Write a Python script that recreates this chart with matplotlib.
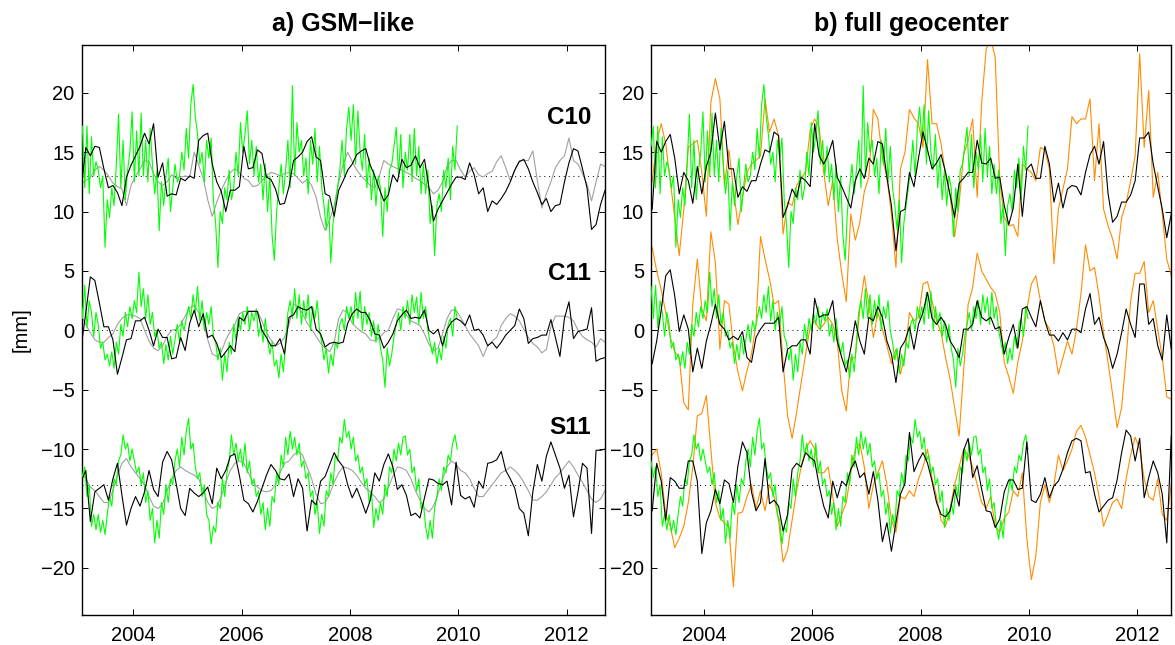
import numpy as np
import matplotlib
matplotlib.use('Agg')
import matplotlib.pyplot as plt

plt.rcParams['font.family'] = ['Liberation Sans', 'DejaVu Sans']
plt.rcParams['axes.unicode_minus'] = True

# monthly solutions Jan 2003 - Sep 2012, SLR series twice a month 2003 - 2009
t_month = 2003 + (np.arange(117) + 0.5) / 12
t_slr = 2003 + (np.arange(168) + 0.5) / 24

offsets = [13, 0, -13]

# SLR (green), same series in both panels
slr_c10 = [
    15.5, 17.2, 12.0, 17.2, 11.5, 16.3, 13.0, 14.2, 13.5, 12.0, 13.0, 7.0, 11.0, 9.5, 12.0, 10.5, 14.0, 18.2, 12.0, 16.0, 11.0, 13.5, 15.0, 18.4,
    12.5, 16.8, 13.0, 18.3, 13.0, 16.0, 12.5, 17.0, 14.0, 11.5, 13.5, 8.4, 12.5, 10.5, 13.0, 14.5, 10.0, 12.0, 14.0, 12.5, 13.0, 15.0, 13.5, 17.0,
    14.5, 19.0, 20.7, 18.0, 16.5, 14.0, 15.0, 12.5, 16.0, 14.5, 16.2, 11.0, 9.0, 5.3, 10.0, 9.0, 12.0, 11.0, 13.5, 11.0, 12.0, 15.0, 13.0, 17.5,
    15.0, 16.5, 18.5, 14.0, 16.0, 13.0, 15.5, 12.5, 14.0, 11.0, 14.0, 10.0, 13.0, 8.0, 5.9, 10.0, 12.0, 14.0, 11.5, 13.5, 16.0, 12.0, 20.6, 13.0,
    17.5, 15.0, 16.0, 13.0, 14.5, 11.5, 16.0, 14.0, 17.0, 12.5, 15.5, 12.0, 10.5, 8.5, 11.0, 5.7, 9.0, 10.5, 12.0, 13.5, 16.0, 13.0, 17.0, 18.8,
    16.0, 19.0, 14.0, 18.5, 15.0, 13.5, 16.5, 12.0, 14.5, 11.0, 13.5, 10.5, 13.0, 12.0, 7.9, 12.0, 10.0, 13.5, 14.0, 15.5, 17.1, 13.0, 16.5, 12.0,
    15.0, 13.5, 16.5, 12.5, 17.0, 13.0, 15.5, 11.5, 14.0, 11.5, 13.5, 9.0, 10.5, 6.3, 10.5, 11.5, 10.0, 13.5, 12.0, 14.5, 11.0, 15.5, 13.5, 17.2,
]
slr_c11 = [
    3.7, 1.0, 3.8, 0.2, 2.5, 1.5, -0.5, 1.5, 0.5, -1.5, -1.0, -2.5, -2.0, -3.0, -1.8, -3.2, -1.0, -2.0, 0.5, -0.5, 1.5, 0.3, 2.0, 1.0,
    2.5, 1.5, 4.9, 2.0, 3.5, 1.0, 3.0, 0.5, 1.5, -0.5, 0.0, -1.5, -1.0, -2.8, -1.2, -2.5, -0.5, -2.0, -0.8, 0.5, -1.0, 0.8, 0.0, 1.0,
    2.0, 1.0, 3.0, 1.5, 3.7, 0.8, 2.5, 0.0, 1.5, 0.5, 2.0, -0.5, -1.0, -2.5, -1.5, -4.2, -2.0, -3.5, -1.0, -2.0, 0.5, -0.8, 1.0, 0.0,
    1.5, 0.5, 2.0, 0.0, 1.5, 0.8, 1.8, -0.5, 0.5, -1.0, 1.0, -0.8, -2.0, -1.0, -3.0, -2.5, -4.0, -2.0, -3.5, -1.0, 1.5, 2.5, 1.0, 3.5,
    1.0, 3.0, 0.5, 2.5, 1.0, 3.0, 0.0, 2.0, 1.0, 2.5, 0.0, -1.0, -2.5, -1.5, -3.6, -2.0, -3.0, -1.0, -1.5, 0.5, 1.0, 0.0, 2.0, 1.0,
    2.0, 0.5, 3.2, 1.0, 3.3, 0.0, 2.0, 0.5, 1.5, -0.5, 0.8, -1.0, 0.5, -1.5, -2.5, -4.8, -1.5, -3.0, -2.0, -0.5, 0.5, 1.5, 0.0, 2.0,
    1.0, 2.5, 0.5, 3.0, 1.5, 2.8, 0.5, 3.2, 1.0, 2.0, 0.0, -1.0, -2.0, -1.0, -2.8, -1.5, -2.5, -0.5, -1.5, 0.5, 1.0, -0.5, 2.0, 1.0,
]
slr_s11 = [
    -11.0, -12.4, -11.5, -14.0, -13.0, -16.5, -15.5, -16.8, -15.5, -17.0, -16.0, -17.2, -15.5, -14.0, -14.8, -12.5, -13.0, -11.0, -10.5, -8.8, -10.0, -9.5, -11.0, -10.0,
    -11.0, -12.0, -11.5, -13.0, -12.0, -14.5, -13.5, -16.0, -15.0, -17.9, -16.0, -17.5, -14.5, -15.5, -13.0, -14.5, -12.5, -13.0, -11.0, -10.0, -11.5, -9.0, -10.5, -8.5,
    -7.4, -10.0, -9.5, -11.5, -12.5, -12.0, -14.0, -13.0, -15.5, -16.0, -18.0, -16.5, -17.0, -14.5, -15.0, -12.5, -14.0, -12.0, -11.0, -8.8, -10.5, -9.5, -11.0, -10.0,
    -11.5, -9.5, -12.0, -11.0, -13.0, -12.5, -14.0, -13.5, -15.5, -14.5, -16.8, -15.0, -16.5, -14.0, -14.5, -12.0, -13.0, -10.5, -11.5, -9.0, -10.5, -8.5, -10.0, -9.0,
    -10.5, -9.5, -11.5, -11.0, -12.5, -12.0, -14.0, -13.5, -15.5, -14.5, -17.1, -15.5, -16.5, -13.5, -14.0, -12.0, -13.0, -10.5, -11.0, -9.0, -9.5, -7.5, -9.0, -8.5,
    -10.0, -9.0, -11.0, -10.5, -12.0, -11.5, -13.0, -12.5, -14.5, -13.5, -16.6, -15.0, -16.0, -14.5, -15.5, -13.0, -14.0, -11.5, -12.0, -10.0, -11.0, -9.5, -10.5, -9.0,
    -8.9, -10.5, -10.0, -12.0, -11.5, -13.5, -12.5, -15.0, -14.5, -16.5, -17.6, -16.0, -17.5, -15.0, -14.0, -12.5, -13.5, -11.5, -12.0, -10.5, -11.0, -9.5, -8.8, -10.0,
]

# a) GSM-like: estimate (black) and reference (gray)
gsm_c10 = [
    12.0, 15.4, 14.7, 15.5, 15.4, 13.6, 12.0, 12.2, 11.6, 10.5, 12.9, 13.9,
    14.7, 15.5, 16.6, 15.7, 17.4, 12.9, 14.1, 11.3, 11.5, 11.4, 12.8, 12.6,
    13.0, 12.8, 16.0, 16.4, 16.6, 14.0, 12.5, 11.7, 10.0, 11.8, 11.8, 12.1,
    15.5, 13.6, 13.7, 15.2, 14.9, 12.9, 12.7, 11.9, 10.6, 10.7, 12.1, 14.3,
    14.6, 15.0, 15.9, 16.3, 14.6, 14.3, 11.5, 11.3, 9.6, 11.8, 12.6, 13.5,
    14.0, 14.8, 15.1, 15.3, 13.9, 13.0, 11.9, 10.9, 11.4, 13.1, 12.5, 14.4,
    13.7, 13.9, 14.7, 13.7, 14.4, 12.0, 9.2, 10.2, 10.9, 11.6, 12.3, 12.9,
    12.9, 12.7, 14.1, 13.1, 11.5, 12.0, 10.0, 10.9, 10.6, 11.1, 11.7, 12.5,
    13.5, 14.2, 14.4, 13.6, 12.5, 11.6, 10.6, 11.1, 10.0, 10.5, 10.6, 12.5,
    14.1, 15.3, 15.1, 13.6, 12.0, 8.5, 8.9, 10.6, 11.8,
]
ref_c10 = [
    12.4, 12.6, 12.9, 13.5, 13.8, 13.5, 13.0, 12.4, 12.1, 11.9, 10.5, 12.2,
    13.0, 13.6, 14.3, 14.2, 13.2, 12.5, 12.2, 12.5, 13.1, 12.8, 12.9, 13.0,
    12.9, 15.0, 13.9, 12.8, 11.0, 9.6, 10.8, 11.8, 12.6, 13.3, 13.6, 13.3,
    12.8, 12.6, 12.1, 12.2, 12.6, 13.0, 13.3, 13.2, 13.0, 13.2, 13.3, 13.2,
    12.8, 12.4, 12.7, 12.2, 11.2, 9.5, 8.4, 9.3, 10.5, 12.5, 14.0, 15.0,
    14.2, 13.5, 13.0, 12.6, 12.2, 12.0, 13.0, 14.3, 14.0, 13.8, 13.6, 13.5,
    13.3, 13.1, 12.8, 12.6, 12.3, 12.0, 11.5, 11.8, 12.5, 13.8, 14.3, 14.3,
    13.5, 12.9, 13.4, 13.7, 13.1, 12.9, 13.2, 13.4, 14.2, 14.7, 13.7, 12.6,
    13.5, 14.3, 14.3, 14.3, 15.1, 12.6, 10.3, 11.5, 12.5, 13.7, 14.3, 14.7,
    16.2, 14.3, 14.0, 13.2, 12.3, 10.9, 12.5, 14.0, 13.8,
]
gsm_c11 = [
    -1.3, 1.5, 4.5, 4.2, 2.3, 0.3, 0.3, -0.8, -3.7, -2.3, -0.8, -0.7,
    0.8, 0.8, 1.1, 0.0, -1.3, 0.1, -0.6, -0.6, -2.4, -2.3, -0.6, -1.7,
    0.6, 1.7, 0.3, 1.4, -0.6, -0.4, -1.1, -2.3, -1.8, -1.3, -1.8, 1.1,
    0.8, 1.6, 1.6, 1.6, 0.0, -0.6, -1.3, -1.3, -0.7, -2.0, 1.1, 1.3,
    2.0, 1.8, 1.7, 2.0, 0.1, -0.3, -1.4, -1.1, -1.0, -1.1, -1.0, 0.6,
    1.4, 1.8, 1.5, 1.5, 0.8, -0.3, -0.4, -1.5, -1.0, -0.3, 0.8, 1.3,
    1.7, 1.0, 1.1, 1.0, 1.7, 0.0, -0.3, 0.1, -1.3, 0.1, 0.7, 1.0,
    0.8, 0.4, 1.3, 0.0, 0.1, -0.4, -1.3, -1.0, -1.5, -1.0, -0.4, 0.0,
    0.4, 1.8, 1.0, -1.1, -0.7, -0.6, -0.4, -0.4, 0.9, -0.6, -2.2, 1.0,
    2.4, -0.7, -0.1, 0.0, 0.1, 1.9, -2.6, -2.4, -2.3,
]
ref_c11 = [
    1.2, 0.5, -0.2, -0.8, -1.0, -1.0, -0.6, -0.3, 0.5, 1.0, 1.3, 1.3,
    1.2, 1.0, 0.0, -0.9, -1.5, -1.7, -1.3, -0.5, 0.0, 0.1, 0.5, 1.2,
    1.9, 2.1, 1.5, 0.8, -0.8, -2.0, -2.2, -1.8, -0.8, -0.1, 0.5, 1.4,
    1.6, 1.6, 1.6, 1.6, 0.8, -0.2, -0.8, -1.3, -1.1, -0.6, 0.5, 2.2,
    2.0, 1.4, 0.6, 0.1, -0.5, -1.1, -1.5, -1.8, -1.0, 1.0, 1.7, 1.5,
    0.6, 0.2, -0.1, -0.3, -0.8, -0.9, -0.6, -0.2, 0.0, 1.0, 1.8, 1.7,
    1.3, 0.8, 0.6, 0.4, -0.3, -1.2, -1.7, -1.5, -0.3, 1.0, 1.7, 1.7,
    1.1, 0.4, -0.3, -0.8, -1.3, -2.2, -1.3, -0.9, -0.6, 0.4, 1.0, 1.4,
    1.2, 0.8, 0.1, -0.6, -1.1, -1.4, -1.9, -1.6, 0.3, 1.2, 1.2, 1.2,
    1.1, 0.8, 0.0, -0.5, -0.8, -1.0, -1.4, -0.7, -1.0,
]
gsm_s11 = [
    -12.7, -11.8, -16.1, -13.6, -13.3, -13.0, -14.3, -12.5, -11.2, -13.9, -16.4, -15.0,
    -14.0, -14.8, -13.6, -11.8, -13.4, -14.0, -11.1, -10.2, -10.9, -12.9, -15.0, -15.6,
    -13.3, -13.7, -14.0, -13.7, -13.2, -14.6, -11.6, -12.5, -11.8, -10.6, -10.4, -12.2,
    -14.3, -14.6, -15.3, -14.4, -13.3, -12.2, -11.3, -11.8, -12.5, -12.6, -12.1, -14.0,
    -12.5, -13.3, -16.9, -14.3, -14.7, -12.7, -12.3, -11.3, -10.3, -11.0, -11.5, -13.0,
    -14.1, -13.3, -14.3, -15.4, -14.3, -12.0, -12.7, -11.3, -10.4, -11.5, -13.4, -13.0,
    -13.9, -15.6, -15.4, -15.8, -14.1, -12.5, -12.6, -12.9, -13.0, -12.7, -14.7, -11.1,
    -13.9, -14.2, -14.0, -14.9, -12.7, -13.3, -11.2, -11.1, -10.9, -10.2, -11.8, -12.5,
    -13.3, -15.0, -15.4, -17.3, -13.6, -11.3, -12.7, -10.6, -9.4, -10.5, -11.6, -13.3,
    -12.2, -15.7, -13.6, -11.2, -11.6, -17.1, -10.1, -10.1, -10.0,
]
ref_s11 = [
    -12.0, -12.5, -13.2, -13.5, -14.0, -14.5, -14.5, -13.5, -12.2, -11.2, -10.8, -11.5,
    -12.0, -12.5, -13.0, -14.0, -14.8, -15.0, -14.6, -13.5, -12.5, -11.8, -11.5, -11.8,
    -12.0, -12.2, -12.5, -13.5, -14.5, -15.0, -14.8, -14.0, -12.8, -11.8, -11.2, -11.0,
    -11.2, -12.0, -12.8, -13.2, -13.5, -13.6, -13.5, -13.0, -12.0, -11.2, -11.0, -10.5,
    -10.2, -10.5, -11.5, -12.5, -13.8, -14.6, -14.5, -13.8, -12.8, -12.0, -11.5, -11.6,
    -11.8, -12.2, -12.8, -13.3, -13.6, -14.0, -14.5, -14.2, -13.2, -12.3, -11.5, -11.6,
    -11.8, -12.5, -13.5, -14.3, -15.0, -15.3, -14.8, -13.8, -12.5, -11.5, -11.0, -11.3,
    -11.8, -12.0, -12.5, -13.3, -14.0, -14.0, -13.5, -13.0, -12.5, -12.0, -11.8, -11.5,
    -11.8, -12.2, -12.8, -13.5, -14.3, -14.3, -14.0, -13.6, -13.0, -12.4, -12.0, -11.5,
    -11.0, -11.5, -12.2, -12.8, -13.5, -14.2, -14.5, -14.2, -13.5,
]

# b) full geocenter: estimate (black) and model (orange)
full_c10 = [
    10.2, 15.9, 15.0, 15.9, 16.5, 14.5, 11.5, 13.3, 12.6, 10.7, 13.8, 11.5,
    13.8, 15.0, 18.3, 15.2, 17.6, 13.6, 13.6, 11.2, 12.1, 11.7, 12.6, 12.6,
    14.0, 15.2, 15.0, 16.7, 16.4, 9.5, 10.5, 11.9, 11.2, 12.9, 12.6, 12.1,
    17.4, 14.7, 14.0, 14.8, 16.0, 12.9, 12.1, 11.2, 10.3, 12.6, 13.6, 12.8,
    14.5, 14.0, 15.9, 15.7, 12.9, 10.5, 6.7, 10.0, 10.2, 13.3, 12.1, 14.5,
    16.7, 15.2, 13.6, 14.1, 14.8, 13.3, 11.4, 9.5, 12.4, 12.8, 13.3, 13.3,
    16.0, 14.1, 14.0, 14.5, 12.8, 12.9, 10.5, 8.9, 10.3, 14.0, 9.6, 13.6,
    14.0, 12.8, 12.8, 15.5, 14.0, 10.8, 12.4, 10.3, 11.9, 12.2, 12.1, 11.4,
    13.3, 14.8, 15.5, 14.0, 15.9, 11.5, 9.1, 9.6, 10.8, 10.8, 11.4, 12.6,
    16.2, 16.2, 16.7, 14.0, 12.1, 10.2, 7.8, 9.8, 12.6,
]
model_c10 = [
    12.5, 15.9, 17.4, 15.7, 12.6, 9.5, 6.3, 10.2, 15.4, 15.7, 16.0, 13.3,
    9.6, 19.2, 21.2, 19.5, 12.2, 15.2, 11.9, 8.9, 11.2, 13.3, 14.0, 14.3,
    14.7, 19.5, 16.7, 17.8, 16.4, 8.1, 10.8, 10.5, 12.2, 12.8, 13.4, 16.9,
    17.8, 17.1, 13.3, 10.5, 12.6, 7.7, 4.8, 2.4, 9.8, 7.6, 9.1, 11.7,
    12.9, 18.6, 17.8, 14.5, 12.9, 9.8, 5.3, 13.6, 15.0, 18.6, 17.9, 17.4,
    15.4, 22.8, 17.4, 17.4, 15.7, 13.1, 11.4, 7.9, 10.7, 14.8, 16.0, 17.8,
    11.2, 19.2, 23.7, 24.5, 23.0, 12.6, 9.5, 8.8, 8.9, 7.9, 14.0, 13.6,
    13.3, 12.6, 15.4, 15.2, 13.6, 5.6, 10.2, 11.9, 13.6, 18.0, 17.4, 17.8,
    17.8, 19.5, 12.6, 17.4, 10.2, 8.8, 7.7, 6.0, 9.5, 10.7, 12.6, 14.7,
    23.3, 15.4, 20.2, 11.2, 13.3, 9.8, 6.0, 4.6, 7.4,
]
full_c11 = [
    -2.8, -0.9, 1.7, 4.6, 5.1, 2.9, -0.1, 1.3, 0.1, -3.5, -1.5, -3.2,
    -0.9, 0.5, 2.2, 0.5, 0.1, -0.8, -0.5, -0.8, -0.1, -2.3, -2.7, -0.6,
    0.1, 0.6, 0.6, 0.6, 1.1, -3.5, -1.6, -1.3, -1.3, -0.8, -0.8, -2.0,
    2.7, 1.1, 1.3, 1.3, 2.5, -0.9, -2.3, -3.5, -1.5, 0.8, -0.9, -2.0,
    1.1, 0.8, 2.0, 1.1, -0.9, -2.0, -4.4, -1.5, -0.9, 0.3, -1.6, 0.5,
    1.5, 3.2, 1.0, 0.5, 1.1, 0.5, -0.9, -1.5, -2.3, 0.1, 0.1, 0.5,
    2.5, 1.1, 0.8, 1.1, 0.1, 0.3, -2.0, -0.6, 0.5, -1.5, 1.8, 2.0,
    1.1, 0.3, 2.5, 0.8, -0.4, -0.4, -0.9, -0.2, -0.8, 0.1, 0.1, -0.2,
    1.8, 3.1, 0.5, 1.1, -0.6, -1.6, -3.2, -2.0, -0.2, 1.8, 0.5, -0.6,
    3.9, 3.9, 0.5, 1.0, -1.3, -2.5, 1.3, -1.6, -1.5,
]
model_c11 = [
    7.0, 5.0, 3.4, 1.5, -0.6, -1.8, -2.3, -6.1, -6.7, 2.2, 6.0, 1.8,
    0.8, 8.3, 5.7, -1.6, 2.5, 2.2, -1.3, -3.5, -5.1, -3.4, -2.0, 0.5,
    7.9, 6.0, 4.3, 2.2, 2.5, -2.7, -7.2, -9.1, -6.9, -4.4, -2.0, 0.3,
    0.8, 0.1, 0.5, 1.1, 0.5, -0.9, -5.1, -6.8, -2.3, -2.3, 1.8, 4.6,
    2.2, -0.6, 1.5, 0.1, -1.3, -2.8, -1.6, -3.7, -2.0, 1.5, 0.8, 1.1,
    3.9, 4.1, 2.5, 0.8, -0.2, -2.3, -4.1, -6.5, -8.9, -3.4, 2.2, 3.6,
    6.5, 5.0, 4.3, 3.6, 3.1, 1.5, -2.7, -3.9, -5.3, -2.7, -0.9, 1.8,
    3.9, 4.6, 2.5, 0.8, 0.1, -1.3, -3.7, -2.3, -0.9, -2.0, 0.1, 3.1,
    7.2, 5.0, 5.3, 2.9, -0.2, -2.7, -5.4, -8.2, -6.5, -2.3, 2.5, 4.8,
    4.8, 5.8, 1.5, 2.5, 0.1, -2.3, -5.6, -5.8, -5.0,
]
full_s11 = [
    -15.2, -11.2, -12.7, -16.0, -12.4, -12.7, -13.3, -13.3, -11.0, -11.0, -12.7, -18.8,
    -16.2, -15.2, -13.4, -14.6, -12.6, -12.9, -14.5, -11.4, -9.4, -10.3, -13.6, -15.2,
    -14.5, -10.8, -14.6, -14.3, -14.8, -16.9, -15.5, -11.7, -11.2, -11.5, -10.3, -10.7,
    -11.0, -13.1, -14.8, -15.8, -12.7, -14.1, -12.7, -13.1, -11.7, -11.0, -12.4, -12.0,
    -13.8, -11.9, -14.3, -17.8, -16.2, -18.6, -16.2, -13.8, -12.9, -8.6, -11.9, -11.0,
    -10.3, -11.2, -12.7, -14.5, -15.5, -15.7, -15.2, -13.4, -14.8, -10.1, -9.1, -12.4,
    -11.4, -13.4, -15.2, -15.3, -16.6, -15.9, -13.6, -12.6, -12.6, -13.4, -13.3, -9.4,
    -14.3, -14.5, -13.8, -12.4, -14.1, -13.1, -12.7, -11.7, -10.3, -9.3, -9.1, -9.3,
    -12.0, -11.9, -13.8, -15.3, -14.8, -14.3, -14.1, -12.6, -10.3, -8.4, -8.9, -11.0,
    -9.1, -14.1, -12.4, -11.0, -12.0, -13.8, -17.9, -8.9, -8.9,
]
model_s11 = [
    -10.5, -10.0, -12.0, -15.5, -16.5, -18.3, -17.5, -16.5, -14.5, -11.5, -7.2, -7.0,
    -5.5, -10.0, -14.5, -15.8, -16.2, -16.6, -21.6, -15.4, -15.3, -14.0, -13.0, -15.0,
    -13.5, -15.2, -13.0, -14.0, -16.0, -19.5, -18.5, -16.0, -13.5, -11.5, -10.0, -9.3,
    -10.0, -12.0, -12.0, -11.5, -14.0, -16.5, -15.5, -14.5, -12.0, -10.0, -9.5, -11.5,
    -15.0, -13.0, -12.0, -11.0, -13.0, -16.0, -17.0, -14.0, -14.2, -13.5, -14.0, -12.5,
    -11.5, -10.0, -12.5, -14.0, -16.0, -16.5, -15.0, -13.0, -11.5, -10.0, -10.5, -11.5,
    -13.0, -14.5, -15.0, -14.0, -16.5, -17.0, -15.8, -15.3, -13.5, -14.0, -12.0, -17.5,
    -21.0, -19.0, -14.5, -13.0, -14.5, -13.0, -10.5, -11.8, -11.0, -10.0, -8.5, -8.0,
    -9.0, -10.5, -12.0, -14.0, -16.5, -15.5, -14.5, -14.2, -15.0, -12.5, -10.5, -9.0,
    -10.0, -12.5, -14.0, -14.3, -12.5, -15.5, -16.0, -13.0, -10.0,
]

GREEN = '#00ff00'
GRAY = '#a0a0a0'
ORANGE = '#ff8c00'
LW = 0.8

fig = plt.figure(figsize=(11.75, 6.45), dpi=100)
ax1 = fig.add_axes([0.0695, 0.046, 0.4454, 0.8837])
ax2 = fig.add_axes([0.5540, 0.046, 0.4426, 0.8837])


def style(ax, xlim, title):
    for off in offsets:
        ax.axhline(off, color='k', ls=(0, (1, 4)), lw=0.7, zorder=1)
    ax.set_xlim(*xlim)
    ax.set_ylim(-24, 24)
    ax.set_xticks([2004, 2006, 2008, 2010, 2012])
    ax.set_yticks([-20, -15, -10, -5, 0, 5, 10, 15, 20])
    ax.tick_params(direction='in', top=True, right=True, length=4.5,
                   width=0.7, labelsize=14.5)
    ax.tick_params(axis='x', pad=8)
    ax.tick_params(axis='y', pad=5)
    for sp in ax.spines.values():
        sp.set_linewidth(1.0)
    ax.set_title(title, fontsize=18, fontweight='bold', pad=10)


# left panel
style(ax1, (2003.048, 2012.707), 'a) GSM\u2212like')
for ref in (ref_c10, ref_c11, ref_s11):
    ax1.plot(t_month, ref, color=GRAY, lw=LW, zorder=2)
for slr in (slr_c10, slr_c11, slr_s11):
    ax1.plot(t_slr, slr, color=GREEN, lw=LW, zorder=3)
for est in (gsm_c10, gsm_c11, gsm_s11):
    ax1.plot(t_month, est, color='k', lw=LW, zorder=4)

for name, y in (('C10', 17.9), ('C11', 4.8), ('S11', -8.2)):
    ax1.text(2012.45, y, name, ha='right', va='center', fontsize=17.5,
             fontweight='bold')

# right panel
style(ax2, (2003.019, 2012.62), 'b) full geocenter')
for mod in (model_c10, model_c11, model_s11):
    ax2.plot(t_month, mod, color=ORANGE, lw=LW, zorder=2)
for slr in (slr_c10, slr_c11, slr_s11):
    ax2.plot(t_slr, slr, color=GREEN, lw=LW, zorder=3)
for est in (full_c10, full_c11, full_s11):
    ax2.plot(t_month, est, color='k', lw=LW, zorder=4)

fig.text(0.018, 1 - 330 / 645, '[mm]', rotation=90, ha='center', va='center',
         fontsize=14.5)

fig.savefig('out.png', dpi=100)
